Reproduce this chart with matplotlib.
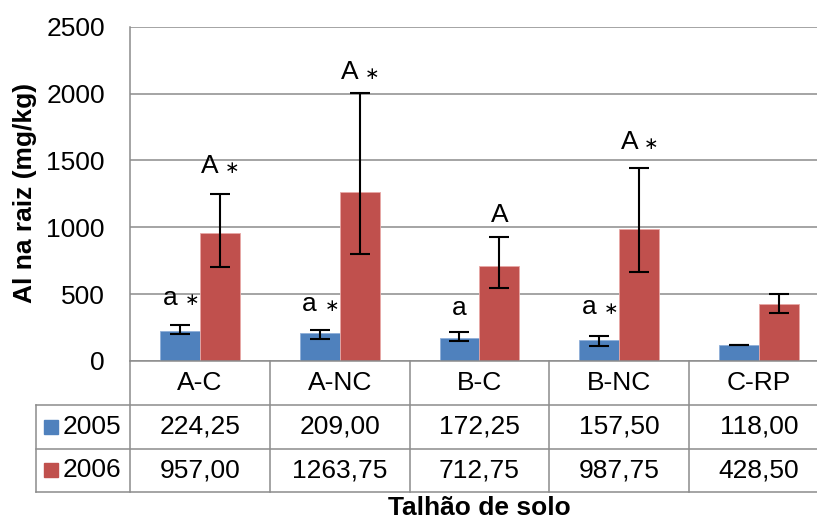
import matplotlib
matplotlib.use("Agg")
import matplotlib.pyplot as plt
from matplotlib.patches import Rectangle
from matplotlib.transforms import offset_copy

plt.rcParams['font.family'] = ['Liberation Sans', 'DejaVu Sans']

# data
categories = ['A-C', 'A-NC', 'B-C', 'B-NC', 'C-RP']
years = ['2005', '2006']
vals_2005 = [224.25, 209.00, 172.25, 157.50, 118.00]
vals_2006 = [957.00, 1263.75, 712.75, 987.75, 428.50]
# error bar ends (lower, upper)
err_lo_2005 = [202, 168, 148, 110, 118]
err_hi_2005 = [268, 235, 217, 188, 118]
err_lo_2006 = [702, 797, 543, 665, 360]
err_hi_2006 = [1250, 2004, 925, 1442, 500]
# significance letters, asterisk flags and their baselines (data units)
letters_2005 = ['a', 'a', 'a', 'a', '']
letters_2006 = ['A', 'A', 'A', 'A', '']
star_2005 = [True, True, False, True, False]
star_2006 = [True, True, False, True, False]
label_y_2005 = [417, 372, 342, 348, 0]
label_y_2006 = [1405, 2109, 1037, 1585, 0]
table_2005 = ['224,25', '209,00', '172,25', '157,50', '118,00']
table_2006 = ['957,00', '1263,75', '712,75', '987,75', '428,50']

blue = '#4F81BD'
red = '#C0504D'
grey = '#8C8C8C'
fs = 19

W, H = 817, 521
fig = plt.figure(figsize=(W / 100, H / 100), dpi=100)

# pixel layout of the Excel chart
px_left, px_right = 130, 829
px_top, px_zero, px_bot = 26.7, 361, 492.3
cat_px = (px_right - px_left) / len(categories)

ax = fig.add_axes([px_left / W, 1 - px_zero / H,
                   (px_right - px_left) / W, (px_zero - px_top) / H])
ax.set_xlim(-0.5, len(categories) - 0.5)
ax.set_ylim(0, 2500)
ax.set_yticks(range(0, 2501, 500))
ax.set_xticks([])
ax.tick_params(axis='y', length=0, pad=18, labelsize=fs)
ax.yaxis.grid(True, color=grey, linewidth=1.1)
ax.set_axisbelow(True)
for s in ['top', 'right']:
    ax.spines[s].set_visible(False)
for s in ['left', 'bottom']:
    ax.spines[s].set_color(grey)
    ax.spines[s].set_linewidth(1.1)

bw = 40 / cat_px
x = list(range(len(categories)))
x1 = [i - bw / 2 for i in x]
x2 = [i + bw / 2 for i in x]

ax.bar(x1, vals_2005, bw, color=blue, edgecolor='#8FAFD9', linewidth=0.6, zorder=2)
ax.bar(x2, vals_2006, bw, color=red, edgecolor='#E8A8A6', linewidth=0.6, zorder=2)

def draw_err(xs, vals, lo, hi):
    yerr = [[v - l for v, l in zip(vals, lo)], [h - v for v, h in zip(vals, hi)]]
    ax.errorbar(xs, vals, yerr=yerr, fmt='none', ecolor='black',
                elinewidth=1.5, capsize=7.5, capthick=1.5, zorder=3)

draw_err(x1, vals_2005, err_lo_2005, err_hi_2005)
draw_err(x2, vals_2006, err_lo_2006, err_hi_2006)

for xs, letters, stars, ys in [(x1, letters_2005, star_2005, label_y_2005),
                               (x2, letters_2006, star_2006, label_y_2006)]:
    for xi, let, st, yy in zip(xs, letters, stars, ys):
        if not let:
            continue
        if st:
            tl = offset_copy(ax.transData, fig=fig, x=-10 * 0.72, y=0, units='points')
            ts = offset_copy(ax.transData, fig=fig, x=12 * 0.72, y=0, units='points')
            ax.text(xi, yy, let, ha='center', va='baseline', fontsize=fs, transform=tl)
            ax.text(xi, yy, '∗', ha='center', va='baseline', fontsize=12.5,
                    family='DejaVu Sans', transform=ts)
        else:
            ax.text(xi, yy, let, ha='center', va='baseline', fontsize=fs)

# data table under the plot
tax = fig.add_axes([36 / W, 1 - px_bot / H,
                    (px_right - 36) / W, (px_bot - px_zero) / H])
x_left = -0.5 - (px_left - 36) / cat_px
tax.set_xlim(x_left, len(categories) - 0.5)
tax.set_ylim(0, 3)
tax.axis('off')

lw = 1.1
for yy in [0, 1, 2]:
    tax.plot([x_left, len(categories) - 0.5], [yy, yy], color=grey, lw=lw, clip_on=False)
tax.plot([x_left, x_left], [0, 2], color=grey, lw=lw, clip_on=False)
for b in [i - 0.5 for i in range(len(categories))]:
    tax.plot([b, b], [0, 3], color=grey, lw=lw, clip_on=False)

for i, c in enumerate(categories):
    tax.text(i, 2.5, c, ha='center', va='center', fontsize=fs)
    tax.text(i, 1.5, table_2005[i], ha='center', va='center', fontsize=fs)
    tax.text(i, 0.5, table_2006[i], ha='center', va='center', fontsize=fs)

sq_w = 14 / cat_px
sq_h = 14 / ((px_bot - px_zero) / 3)
sq_x = -0.5 - (px_left - 44) / cat_px
txt_x = -0.5 - (px_left - 63) / cat_px
for yc, col, yr in [(1.5, blue, years[0]), (0.5, red, years[1])]:
    tax.add_patch(Rectangle((sq_x, yc - sq_h / 2), sq_w, sq_h, color=col, clip_on=False))
    tax.text(txt_x, yc, yr, ha='left', va='center', fontsize=fs)

fig.text(25 / W, 1 - 193 / H, 'Al na raiz (mg/kg)', rotation=90, ha='center',
         va='center', fontsize=fs, fontweight='bold')
fig.text(479 / W, 1 / H, 'Talhão de solo', ha='center', va='bottom',
         fontsize=fs, fontweight='bold')

fig.savefig('out.png', dpi=100)
